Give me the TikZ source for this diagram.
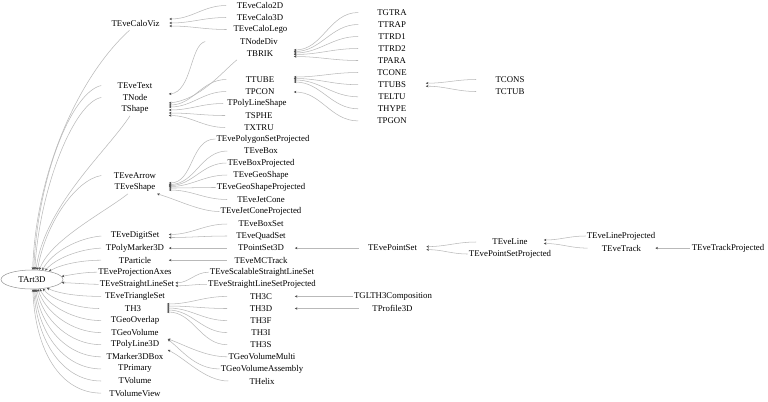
\documentclass[tikz,border=0pt]{standalone}
\usepackage{fontspec}
\setmainfont{Liberation Serif}
\usetikzlibrary{arrows.meta,calc,shapes.geometric}
\begin{document}
\begin{tikzpicture}[x=0.75pt,y=-0.75pt,
  cls/.style={font=\fontsize{6.6pt}{7pt}\selectfont, inner xsep=0.75pt, inner ysep=0pt,
    minimum width=50.25pt, minimum height=9pt, text=black},
  root/.style={ellipse, draw=gray!80, line width=0.4pt, inner sep=0pt,
    minimum width=46.5pt, minimum height=14.25pt, font=\fontsize{6.6pt}{7pt}\selectfont},
  conn/.style={draw=gray!55, line width=0.4pt, <-,
    >={Stealth[length=2pt,width=1.8pt,color=black!70]}}
]
\useasboundingbox (0,0) rectangle (768,401);

% root
\node[root] (TArt3D) at (32,279.5) {TArt3D};

% column 2
\node[cls] (TEveCaloViz) at (135.5,24) {TEveCaloViz};
\node[cls] (TEveText) at (135,85.5) {TEveText};
\node[cls] (TNode) at (135,97.5) {TNode};
\node[cls] (TShape) at (135,109.5) {TShape};
\node[cls] (TEveArrow) at (135,175.5) {TEveArrow};
\node[cls] (TEveShape) at (135,187.5) {TEveShape};
\node[cls] (TEveDigitSet) at (135,236) {TEveDigitSet};
\node[cls] (TPolyMarker3D) at (135,248.1) {TPolyMarker3D};
\node[cls] (TParticle) at (135,260.2) {TParticle};
\node[cls] (TEveProjectionAxes) at (135,272.2) {TEveProjectionAxes};
\node[cls] (TEveStraightLineSet) at (137,284.3) {TEveStraightLineSet};
\node[cls] (TEveTriangleSet) at (135,296.4) {TEveTriangleSet};
\node[cls] (TH3) at (133,308.5) {TH3};
\node[cls] (TGeoOverlap) at (135,320.6) {TGeoOverlap};
\node[cls] (TGeoVolume) at (135,332.6) {TGeoVolume};
\node[cls] (TPolyLine3D) at (135,344.7) {TPolyLine3D};
\node[cls] (TMarker3DBox) at (135,356.8) {TMarker3DBox};
\node[cls] (TPrimary) at (135,368.9) {TPrimary};
\node[cls] (TVolume) at (135,381) {TVolume};
\node[cls] (TVolumeView) at (135,393.1) {TVolumeView};

% column 3
\node[cls] (TEveCalo2D) at (260,5.5) {TEveCalo2D};
\node[cls] (TEveCalo3D) at (260,17.5) {TEveCalo3D};
\node[cls] (TEveCaloLego) at (260.5,29.5) {TEveCaloLego};
\node[cls] (TNodeDiv) at (259,41.5) {TNodeDiv};
\node[cls] (TBRIK) at (260,53.5) {TBRIK};
\node[cls] (TTUBE) at (260,79.5) {TTUBE};
\node[cls] (TPCON) at (260,91.5) {TPCON};
\node[cls] (TPolyLineShape) at (257,103.5) {TPolyLineShape};
\node[cls] (TSPHE) at (259,115.5) {TSPHE};
\node[cls] (TXTRU) at (259,127.5) {TXTRU};
\node[cls] (TEvePolygonSetProjected) at (263,139) {TEvePolygonSetProjected};
\node[cls] (TEveBox) at (261,151) {TEveBox};
\node[cls] (TEveBoxProjected) at (261,163) {TEveBoxProjected};
\node[cls] (TEveGeoShape) at (261,175) {TEveGeoShape};
\node[cls] (TEveGeoShapeProjected) at (261,187.5) {TEveGeoShapeProjected};
\node[cls] (TEveJetCone) at (261,199.5) {TEveJetCone};
\node[cls] (TEveJetConeProjected) at (261,211.5) {TEveJetConeProjected};
\node[cls] (TEveBoxSet) at (261,224) {TEveBoxSet};
\node[cls] (TEveQuadSet) at (261,236) {TEveQuadSet};
\node[cls] (TPointSet3D) at (261,248.1) {TPointSet3D};
\node[cls] (TEveMCTrack) at (261,260.2) {TEveMCTrack};
\node[cls] (TEveScalableStraightLineSet) at (262,272.2) {TEveScalableStraightLineSet};
\node[cls] (TEveStraightLineSetProjected) at (262,284.3) {TEveStraightLineSetProjected};
\node[cls] (TH3C) at (261,296.4) {TH3C};
\node[cls] (TH3D) at (261,308.5) {TH3D};
\node[cls] (TH3F) at (261,320.6) {TH3F};
\node[cls] (TH3I) at (261,332.6) {TH3I};
\node[cls] (TH3S) at (261,344.7) {TH3S};
\node[cls] (TGeoVolumeMulti) at (262,356.8) {TGeoVolumeMulti};
\node[cls] (TGeoVolumeAssembly) at (262,368.9) {TGeoVolumeAssembly};
\node[cls] (THelix) at (262,381) {THelix};

% column 4
\node[cls] (TGTRA) at (392,12.5) {TGTRA};
\node[cls] (TTRAP) at (392,24.5) {TTRAP};
\node[cls] (TTRD1) at (392,36.5) {TTRD1};
\node[cls] (TTRD2) at (392,48.5) {TTRD2};
\node[cls] (TPARA) at (392,60.5) {TPARA};
\node[cls] (TCONE) at (392,72.5) {TCONE};
\node[cls] (TTUBS) at (392,84.7) {TTUBS};
\node[cls] (TELTU) at (392,96.8) {TELTU};
\node[cls] (THYPE) at (392,108.8) {THYPE};
\node[cls] (TPGON) at (392,120.9) {TPGON};
\node[cls] (TEvePointSet) at (392.5,248.1) {TEvePointSet};
\node[cls] (TGLTH3Composition) at (393,296.4) {TGLTH3Composition};
\node[cls] (TProfile3D) at (392.5,308.5) {TProfile3D};

% column 5
\node[cls] (TCONS) at (510,79.5) {TCONS};
\node[cls] (TCTUB) at (510,91.5) {TCTUB};
\node[cls] (TEveLine) at (510,242) {TEveLine};
\node[cls] (TEvePointSetProjected) at (510,254) {TEvePointSetProjected};

% column 6, 7
\node[cls] (TEveLineProjected) at (621,236) {TEveLineProjected};
\node[cls] (TEveTrack) at (621.5,248.1) {TEveTrack};
\node[cls] (TEveTrackProjected) at (728,248.1) {TEveTrackProjected};

% ---- edges from TArt3D ----
\draw[conn] (TArt3D.86) .. controls (36,170) and (80,75) .. ($(TEveCaloViz.south)+(-6,0)$);
\draw[conn] (TArt3D.80) .. controls (38,175) and (72,92) .. (TEveText.west);
\draw[conn] (TArt3D.74) .. controls (40,185) and (75,102) .. (TNode.west);
\draw[conn] (TArt3D.68) .. controls (45,205) and (108,150) .. ($(TShape.south)+(-5,0)$);
\draw[conn] (TArt3D.60) .. controls (45,225) and (75,180) .. (TEveArrow.west);
\draw[conn] (TArt3D.52) .. controls (50,240) and (105,212) .. ($(TEveShape.south)+(-7,0)$);
\draw[conn] (TArt3D.42) .. controls (52,252) and (78,238) .. (TEveDigitSet.west);
\draw[conn] (TArt3D.34) .. controls (56,258) and (80,249) .. (TPolyMarker3D.west);
\draw[conn] (TArt3D.26) .. controls (62,264) and (82,260.2) .. (TParticle.west);
\draw[conn] (TArt3D.6) .. controls (75,274) and (85,272.2) .. (TEveProjectionAxes.west);
\draw[conn] (TArt3D.-6) .. controls (75,283) and (88,284.3) .. (TEveStraightLineSet.west);
\draw[conn] (TArt3D.-30) .. controls (60,294) and (80,296.4) .. (TEveTriangleSet.west);
\draw[conn] (TArt3D.-40) .. controls (52,300) and (78,308.5) .. (TH3.west);
\draw[conn] (TArt3D.-50) .. controls (48,306) and (75,320.6) .. (TGeoOverlap.west);
\draw[conn] (TArt3D.-58) .. controls (45,312) and (72,332.6) .. (TGeoVolume.west);
\draw[conn] (TArt3D.-64) .. controls (43,320) and (70,344.7) .. (TPolyLine3D.west);
\draw[conn] (TArt3D.-70) .. controls (41,328) and (68,356.8) .. (TMarker3DBox.west);
\draw[conn] (TArt3D.-75) .. controls (39,335) and (65,368.9) .. (TPrimary.west);
\draw[conn] (TArt3D.-80) .. controls (37,342) and (63,381) .. (TVolume.west);
\draw[conn] (TArt3D.-85) .. controls (35,350) and (60,393.1) .. (TVolumeView.west);

% ---- TEveCaloViz ----
\draw[conn] ($(TEveCaloViz.east)+(0,-5)$) to[out=0,in=180] (TEveCalo2D.west);
\draw[conn] ($(TEveCaloViz.east)+(0,-1)$) to[out=0,in=180] (TEveCalo3D.west);
\draw[conn] ($(TEveCaloViz.east)+(0,2)$) to[out=0,in=180] (TEveCaloLego.west);

% ---- TNode ----
\draw[conn] ($(TNode.east)+(0,-3.5)$) .. controls (192,92) and (190,45) .. ($(TNodeDiv.west)+(-20,0)$);

% ---- TShape ----
\draw[conn] ($(TShape.east)+(0,-6.5)$) .. controls (200,100) and (222,72) .. ($(TBRIK.south)+(-23,0)$);
\draw[conn] ($(TShape.east)+(0,-4.5)$) to[out=0,in=180] (TTUBE.west);
\draw[conn] ($(TShape.east)+(0,-2.5)$) to[out=0,in=180] (TPCON.west);
\draw[conn] ($(TShape.east)+(0,0.5)$) to[out=0,in=180] (TPolyLineShape.west);
\draw[conn] ($(TShape.east)+(0,3.5)$) to[out=0,in=180] (TSPHE.west);
\draw[conn] ($(TShape.east)+(0,6)$) to[out=0,in=180] (TXTRU.west);

% ---- TBRIK ----
\draw[conn] ($(TBRIK.east)+(0,-3.5)$) to[out=0,in=180] (TGTRA.west);
\draw[conn] ($(TBRIK.east)+(0,-2)$) to[out=0,in=180] (TTRAP.west);
\draw[conn] ($(TBRIK.east)+(0,-0.5)$) to[out=0,in=180] (TTRD1.west);
\draw[conn] ($(TBRIK.east)+(0,1)$) to[out=0,in=180] (TTRD2.west);
\draw[conn] ($(TBRIK.east)+(0,3)$) to[out=0,in=180] (TPARA.west);

% ---- TTUBE / TPCON ----
\draw[conn] ($(TTUBE.east)+(0,-2.5)$) to[out=0,in=180] (TCONE.west);
\draw[conn] ($(TTUBE.east)+(0,-1)$) to[out=0,in=180] (TTUBS.west);
\draw[conn] ($(TTUBE.east)+(0,0.5)$) to[out=0,in=180] (TELTU.west);
\draw[conn] ($(TTUBE.east)+(0,2.5)$) to[out=0,in=180] (THYPE.west);
\draw[conn] ($(TPCON.east)+(0,0.5)$) to[out=0,in=180] (TPGON.west);

% ---- TTUBS ----
\draw[conn] ($(TTUBS.east)+(0,-1.5)$) to[out=0,in=180] (TCONS.west);
\draw[conn] ($(TTUBS.east)+(0,1.5)$) to[out=0,in=180] (TCTUB.west);

% ---- TEveShape ----
\draw[conn] ($(TEveShape.east)+(0,-4.5)$) to[out=0,in=180] (TEvePolygonSetProjected.west);
\draw[conn] ($(TEveShape.east)+(0,-3)$) to[out=0,in=180] (TEveBox.west);
\draw[conn] ($(TEveShape.east)+(0,-2)$) to[out=0,in=180] (TEveBoxProjected.west);
\draw[conn] ($(TEveShape.east)+(0,-1)$) to[out=0,in=180] (TEveGeoShape.west);
\draw[conn] ($(TEveShape.east)+(0,0.5)$) to[out=0,in=180] (TEveGeoShapeProjected.west);
\draw[conn] ($(TEveShape.east)+(0,2.5)$) to[out=0,in=180] (TEveJetCone.west);
\draw[conn] ($(TEveShape.south)+(22,0)$) .. controls (178,200) and (200,211.5) .. (TEveJetConeProjected.west);

% ---- TEveDigitSet, TPolyMarker3D, TParticle ----
\draw[conn] ($(TEveDigitSet.east)+(0,-1.5)$) to[out=0,in=180] (TEveBoxSet.west);
\draw[conn] ($(TEveDigitSet.east)+(0,1.5)$) to[out=0,in=180] (TEveQuadSet.west);
\draw[conn] (TPolyMarker3D.east) -- (TPointSet3D.west);
\draw[conn] (TParticle.east) -- (TEveMCTrack.west);
\draw[conn] (TPointSet3D.east) -- (TEvePointSet.west);

% ---- TEvePointSet, TEveLine, TEveTrack ----
\draw[conn] ($(TEvePointSet.east)+(0,-1.5)$) to[out=0,in=180] (TEveLine.west);
\draw[conn] ($(TEvePointSet.east)+(0,1.5)$) to[out=0,in=180] (TEvePointSetProjected.west);
\draw[conn] ($(TEveLine.east)+(0,-2)$) to[out=0,in=180] (TEveLineProjected.west);
\draw[conn] ($(TEveLine.east)+(0,1.5)$) to[out=0,in=180] (TEveTrack.west);
\draw[conn] (TEveTrack.east) -- (TEveTrackProjected.west);

% ---- TEveStraightLineSet ----
\draw[conn] ($(TEveStraightLineSet.east)+(0,-1.5)$) to[out=0,in=180] (TEveScalableStraightLineSet.west);
\draw[conn] ($(TEveStraightLineSet.east)+(0,1.5)$) to[out=0,in=180] (TEveStraightLineSetProjected.west);

% ---- TH3 ----
\draw[conn] ($(TH3.east)+(0,-4.5)$) to[out=0,in=180] (TH3C.west);
\draw[conn] ($(TH3.east)+(0,-2.5)$) to[out=0,in=180] (TH3D.west);
\draw[conn] ($(TH3.east)+(0,-0.5)$) to[out=0,in=180] (TH3F.west);
\draw[conn] ($(TH3.east)+(0,1.5)$) to[out=0,in=180] (TH3I.west);
\draw[conn] ($(TH3.east)+(0,3.5)$) to[out=0,in=180] (TH3S.west);
\draw[conn] (TH3C.east) -- (TGLTH3Composition.west);
\draw[conn] (TH3D.east) -- (TProfile3D.west);

% ---- TGeoVolume, TPolyLine3D ----
\draw[conn] ($(TGeoVolume.south east)+(-1,0)$) .. controls (185,345) and (205,356.8) .. (TGeoVolumeMulti.west);
\draw[conn] ($(TGeoVolume.south east)+(-1,0.5)$) .. controls (182,350) and (195,368.9) .. (TGeoVolumeAssembly.west);
\draw[conn] ($(TPolyLine3D.south east)+(-1,-1)$) .. controls (185,358) and (205,381) .. (THelix.west);
\end{tikzpicture}
\end{document}
